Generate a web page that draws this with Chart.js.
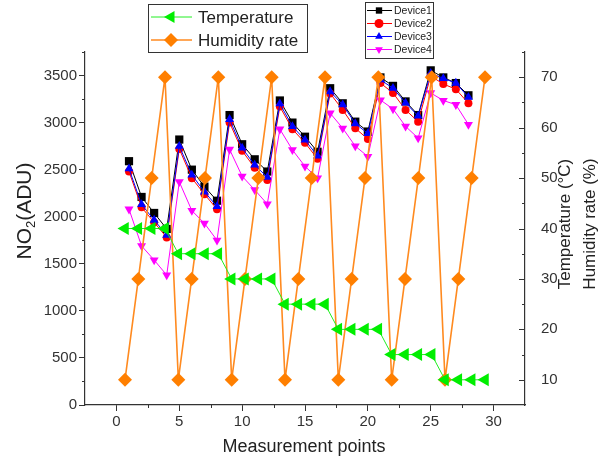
<!DOCTYPE html>
<html>
<head>
<meta charset="utf-8">
<script src="https://cdn.jsdelivr.net/npm/chart.js@4.4.1/dist/chart.umd.min.js"></script>
<style>
  html, body { margin: 0; padding: 0; background: #fff; }
  #wrap { width: 613px; height: 465px; }
</style>
</head>
<body>
<div id="wrap"><canvas id="chart" width="613" height="465"></canvas></div>
<script>
// measurement points (x) shared by all series
const measurementPoints = [1, 2, 3, 4, 5, 6, 7, 8, 9, 10, 11, 12, 13, 14, 15, 16, 17, 18, 19, 20, 21, 22, 23, 24, 25, 26, 27, 28];

// NO2 response of the four devices (ADU)
const device1 = [2590, 2210, 2040, 1870, 2820, 2500, 2320, 2170, 3080, 2770, 2610, 2480, 3235, 3000, 2850, 2690, 3365, 3205, 3010, 2905, 3480, 3390, 3225, 3080, 3555, 3480, 3420, 3290];
const device2 = [2480, 2100, 1940, 1780, 2720, 2410, 2240, 2080, 3000, 2700, 2520, 2390, 3170, 2930, 2785, 2615, 3310, 3135, 2940, 2825, 3420, 3315, 3135, 3010, 3495, 3410, 3355, 3205];
const device3 = [2510, 2130, 1965, 1805, 2750, 2445, 2265, 2110, 3035, 2730, 2550, 2420, 3200, 2960, 2815, 2645, 3330, 3190, 2990, 2885, 3455, 3365, 3210, 3070, 3525, 3470, 3420, 3270];
const device4 = [2080, 1690, 1540, 1380, 2370, 2065, 1930, 1750, 2715, 2430, 2285, 2135, 2930, 2710, 2535, 2410, 3100, 2940, 2750, 2640, 3240, 3145, 2960, 2835, 3315, 3235, 3190, 2980];

// conditions (right axis)
const temperature = [40, 40, 40, 40, 35, 35, 35, 35, 30, 30, 30, 30, 25, 25, 25, 25, 20, 20, 20, 20, 15, 15, 15, 15, 10, 10, 10, 10];
const humidity = [10, 30, 50, 70, 10, 30, 50, 70, 10, 30, 50, 70, 10, 30, 50, 70, 10, 30, 50, 70, 10, 30, 50, 70, 10, 30, 50, 70];

// tick labels
const xTicks = [0, 5, 10, 15, 20, 25, 30];
const leftTicks = [0, 500, 1000, 1500, 2000, 2500, 3000, 3500];
const rightTicks = [10, 20, 30, 40, 50, 60, 70];

const FONT = '"Liberation Sans", Arial, Helvetica, sans-serif';
const AXIS = '#333';

function pts(values) {
  return measurementPoints.map((x, i) => ({ x: x, y: values[i] }));
}

function keepTicks(list) {
  return scale => { scale.ticks = list.map(v => ({ value: v })); };
}

// minor ticks, right axis inward ticks, axis titles and the two legend boxes
const decorations = {
  id: 'decorations',
  afterDraw(chart) {
    const ctx = chart.ctx;
    const sx = chart.scales.x, sy = chart.scales.y, sy2 = chart.scales.y2;
    const r = v => Math.round(v) + 0.5;

    ctx.save();
    ctx.strokeStyle = AXIS;
    ctx.lineWidth = 1;
    ctx.beginPath();
    for (let v = 2.5; v < 30; v += 5) {
      const px = r(sx.getPixelForValue(v));
      ctx.moveTo(px, sx.top); ctx.lineTo(px, sx.top + 3);
    }
    for (let v = 250; v <= 3750; v += 500) {
      const py = r(sy.getPixelForValue(v));
      ctx.moveTo(sy.right, py); ctx.lineTo(sy.right - 3, py);
    }
    for (let v = 10; v <= 75; v += 5) {
      const py = r(sy2.getPixelForValue(v));
      const len = v % 10 === 0 ? 6 : 3;
      ctx.moveTo(sy2.left, py); ctx.lineTo(sy2.left - len, py);
    }
    ctx.stroke();

    // axis titles
    ctx.fillStyle = '#222';
    ctx.textBaseline = 'middle';
    ctx.textAlign = 'center';
    ctx.font = '18px ' + FONT;
    ctx.fillText('Measurement points', 304, 447);

    ctx.save();
    ctx.translate(25, 211);
    ctx.rotate(-Math.PI / 2);
    const big = '21px ' + FONT, small = '13px ' + FONT;
    ctx.font = big;
    const w1 = ctx.measureText('NO').width, w3 = ctx.measureText('(ADU)').width;
    ctx.font = small;
    const w2 = ctx.measureText('2').width;
    let x0 = -(w1 + w2 + w3) / 2;
    ctx.textAlign = 'left';
    ctx.font = big; ctx.fillText('NO', x0, 0);
    ctx.font = small; ctx.fillText('2', x0 + w1, 6);
    ctx.font = big; ctx.fillText('(ADU)', x0 + w1 + w2, 0);
    ctx.restore();

    ctx.font = '17px ' + FONT;
    [['Temperature (\u00B0C)', 565], ['Humidity rate (%)', 590]].forEach(t => {
      ctx.save();
      ctx.translate(t[1], 224);
      ctx.rotate(-Math.PI / 2);
      ctx.fillText(t[0], 0, 0);
      ctx.restore();
    });

    // legends
    const ds = chart.data.datasets;
    const drawEntry = (d, lx0, lx1, mx, y, radius, tx, font) => {
      ctx.strokeStyle = d.borderColor;
      ctx.lineWidth = d.borderWidth;
      ctx.beginPath(); ctx.moveTo(lx0, y); ctx.lineTo(lx1, y); ctx.stroke();
      ctx.fillStyle = d.backgroundColor;
      Chart.helpers.drawPoint(ctx, { pointStyle: d.pointStyle, rotation: d.rotation || 0, radius: radius, borderWidth: 0 }, mx, y);
      ctx.fillStyle = '#222';
      ctx.font = font;
      ctx.textAlign = 'left';
      ctx.fillText(d.label, tx, y + 1);
    };
    ctx.strokeStyle = AXIS; ctx.lineWidth = 1;
    ctx.strokeRect(148.5, 4.5, 159, 48);
    const byLabel = l => ds.find(d => d.label === l);
    drawEntry(byLabel('Temperature'), 151, 192, 171, 17, 7, 198, '17px ' + FONT);
    drawEntry(byLabel('Humidity rate'), 151, 192, 171, 40, 7, 198, '17px ' + FONT);

    ctx.strokeStyle = AXIS; ctx.lineWidth = 1;
    ctx.strokeRect(365.5, 2.5, 68, 56);
    ['Device1', 'Device2', 'Device3', 'Device4'].forEach((l, i) => {
      drawEntry(byLabel(l), 367, 392, 379, 10.5 + i * 13, 4.5, 394, '10.5px ' + FONT);
    });
    ctx.restore();
  }
};

const tickFont = { family: FONT, size: 15 };
const plain = v => String(v);

new Chart(document.getElementById('chart'), {
  type: 'line',
  data: {
    datasets: [
      {
        label: 'Temperature', data: pts(temperature), xAxisID: 'x2', yAxisID: 'y2',
        borderColor: '#22ee22', backgroundColor: '#00ee00', borderWidth: 1,
        pointStyle: 'triangle', rotation: -90, pointRadius: 7.5, pointBorderWidth: 0
      },
      {
        label: 'Humidity rate', data: pts(humidity), xAxisID: 'x2', yAxisID: 'y2',
        borderColor: '#ff8a1f', backgroundColor: '#ff7f00', borderWidth: 1.6,
        pointStyle: 'rectRot', pointRadius: 7, pointBorderWidth: 0
      },
      {
        label: 'Device4', data: pts(device4), xAxisID: 'x', yAxisID: 'y',
        borderColor: '#ff00ff', backgroundColor: '#ff00ff', borderWidth: 1,
        pointStyle: 'triangle', rotation: 180, pointRadius: 5.2, pointBorderWidth: 0
      },
      {
        label: 'Device3', data: pts(device3), xAxisID: 'x', yAxisID: 'y',
        borderColor: '#0000ff', backgroundColor: '#0000ff', borderWidth: 1,
        pointStyle: 'triangle', pointRadius: 5.2, pointBorderWidth: 0
      },
      {
        label: 'Device2', data: pts(device2), xAxisID: 'x', yAxisID: 'y',
        borderColor: '#ff0000', backgroundColor: '#ff0000', borderWidth: 1,
        pointStyle: 'circle', pointRadius: 4, pointBorderWidth: 0
      },
      {
        label: 'Device1', data: pts(device1), xAxisID: 'x', yAxisID: 'y',
        borderColor: '#000000', backgroundColor: '#000000', borderWidth: 1,
        pointStyle: 'rect', pointRadius: 5.8, pointBorderWidth: 0
      }
    ]
  },
  options: {
    responsive: false,
    animation: false,
    events: [],
    layout: { padding: { top: 52, left: 0, right: 0, bottom: 0 } },
    plugins: { legend: { display: false }, tooltip: { enabled: false } },
    scales: {
      x: {
        type: 'linear', position: 'bottom', min: -2.5, max: 32.5,
        afterBuildTicks: keepTicks(xTicks),
        afterFit: s => { s.height = 60; },
        ticks: { font: tickFont, color: '#333', padding: 2, maxRotation: 0, callback: plain },
        grid: { drawOnChartArea: false, tickLength: 6, color: AXIS },
        border: { color: AXIS, width: 1.2 }
      },
      x2: { type: 'linear', display: false, min: -2, max: 31 },
      y: {
        type: 'linear', position: 'left', min: 0, max: 3750,
        afterBuildTicks: keepTicks(leftTicks),
        afterFit: s => { s.width = 85; },
        ticks: { font: tickFont, color: '#333', padding: 2, callback: plain },
        grid: { drawOnChartArea: false, tickLength: 6, color: AXIS },
        border: { color: AXIS, width: 1.2 }
      },
      y2: {
        type: 'linear', position: 'right', min: 5, max: 75,
        afterBuildTicks: keepTicks(rightTicks),
        afterFit: s => { s.width = 88; },
        ticks: { font: tickFont, color: '#333', padding: 8, callback: plain },
        grid: { display: false },
        border: { display: true, color: AXIS, width: 1.2 }
      }
    }
  },
  plugins: [decorations]
});
</script>
</body>
</html>
